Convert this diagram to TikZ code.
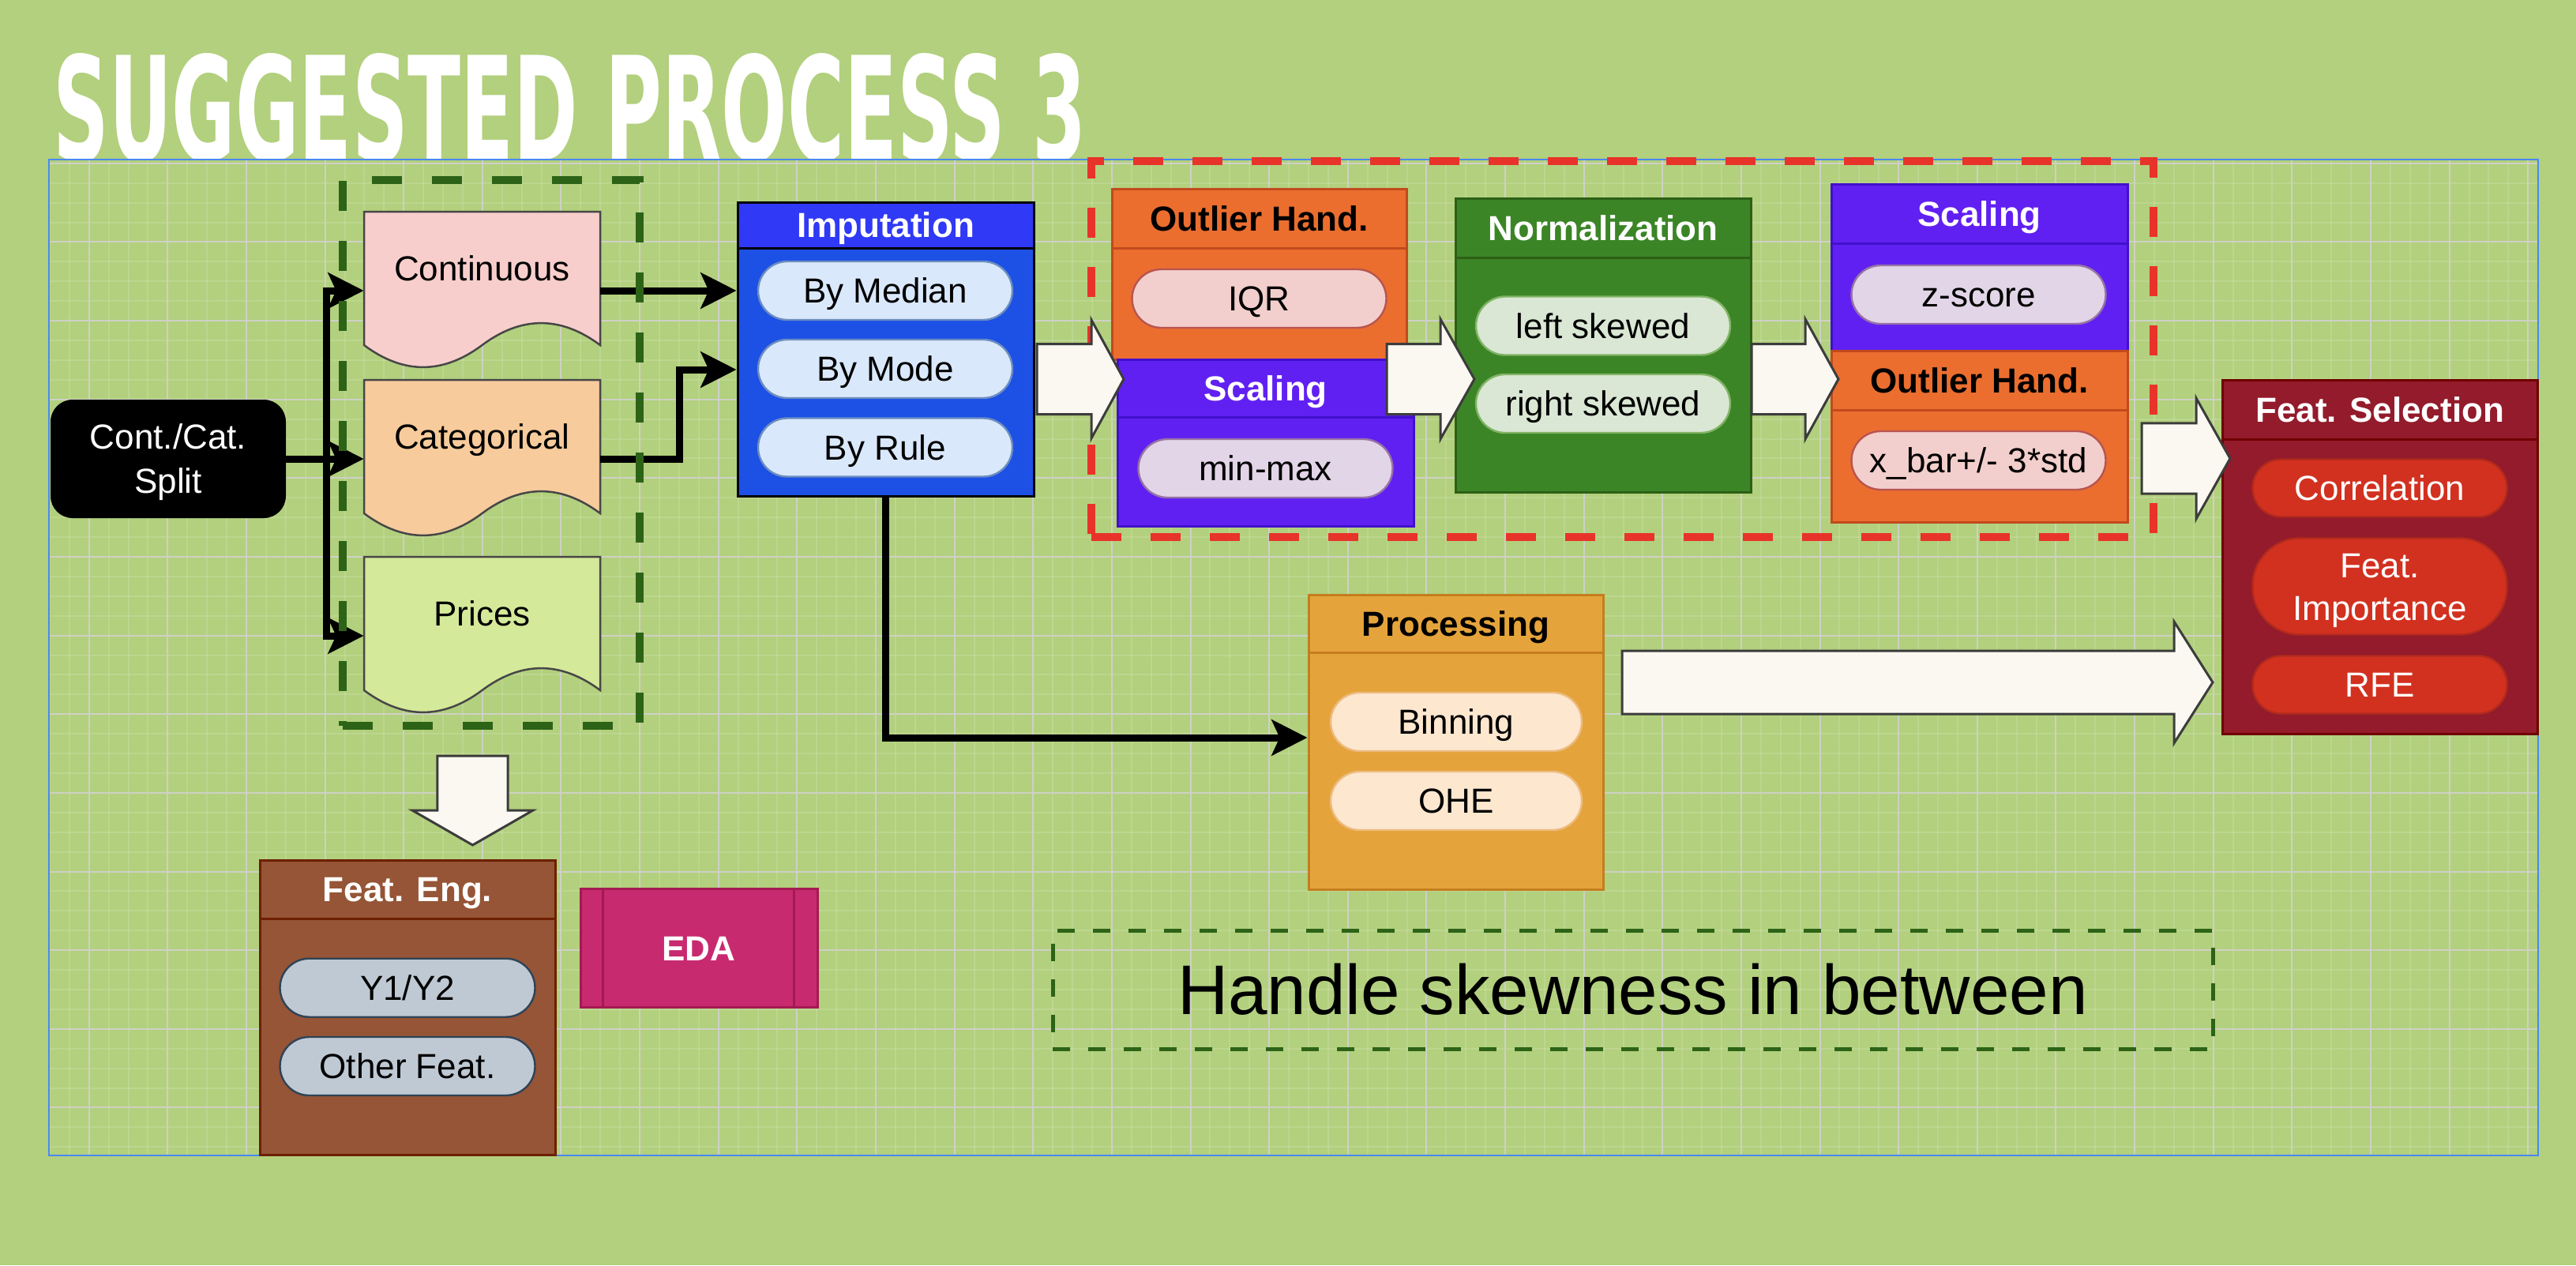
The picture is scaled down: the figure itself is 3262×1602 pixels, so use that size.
\documentclass[tikz,border=0pt]{standalone}
\usepackage{fontspec}
\setmainfont{Liberation Sans}
\newfontfamily\titlefont{DejaVu Sans}
\usepackage{graphicx}
\usetikzlibrary{arrows.meta,calc}
\definecolor{bgG}{HTML}{B2D07D}
\definecolor{gridMaj}{HTML}{CFD0C6}
\definecolor{pageB}{HTML}{4A88F2}
\definecolor{contC}{HTML}{F8CECC}
\definecolor{catC}{HTML}{F7CB9C}
\definecolor{priC}{HTML}{D5E99A}
\definecolor{docLine}{HTML}{474747}
\definecolor{impH}{HTML}{3039F5}
\definecolor{impB}{HTML}{1D50E5}
\definecolor{impP}{HTML}{DAE8FC}
\definecolor{impPS}{HTML}{6C8EBF}
\definecolor{ohC}{HTML}{EB6E2F}
\definecolor{ohS}{HTML}{C24A1C}
\definecolor{ohP}{HTML}{F2CFCC}
\definecolor{ohPS}{HTML}{B85450}
\definecolor{scC}{HTML}{6120F2}
\definecolor{scS}{HTML}{4210CC}
\definecolor{scP}{HTML}{E1D5E7}
\definecolor{scPS}{HTML}{9673A6}
\definecolor{normC}{HTML}{3B8526}
\definecolor{normS}{HTML}{2D6016}
\definecolor{normP}{HTML}{D9E7D4}
\definecolor{normPS}{HTML}{82B366}
\definecolor{fsC}{HTML}{931B2B}
\definecolor{fsS}{HTML}{6F0000}
\definecolor{fsP}{HTML}{D23120}
\definecolor{fsPS}{HTML}{B42A1C}
\definecolor{procC}{HTML}{E5A43B}
\definecolor{procS}{HTML}{C47E1E}
\definecolor{procP}{HTML}{FDE7CF}
\definecolor{procPS}{HTML}{EDBB80}
\definecolor{feC}{HTML}{955536}
\definecolor{feS}{HTML}{6D1F00}
\definecolor{feP}{HTML}{BFC9D4}
\definecolor{fePS}{HTML}{2F4356}
\definecolor{edaC}{HTML}{C82A6F}
\definecolor{edaS}{HTML}{A31A52}
\definecolor{grpG}{HTML}{2D6317}
\definecolor{redD}{HTML}{E8332A}
\definecolor{arrF}{HTML}{FAF8F0}
\definecolor{arrS}{HTML}{3C3C3C}
\newcommand\myBody{\fontsize{22}{27}\selectfont}
\newcommand\myBold{\fontsize{22}{27}\selectfont\bfseries}
\newcommand\MyRArrow[6]{\draw[blk] (#1,{#4-#5}) -- (#2,{#4-#5}) -- (#2,{#4-#6}) -- (#3,#4) -- (#2,{#4+#6}) -- (#2,{#4+#5}) -- (#1,{#4+#5}) -- cycle;}
\tikzset{
  lanebody/.style={rectangle, draw, line width=1.5pt, inner sep=0pt},
  lanehead/.style={rectangle, draw, line width=1.5pt, inner sep=0pt, font=\myBold, text height=15.75pt, text depth=0pt, anchor=north},
  pill/.style={rectangle, rounded corners=18.5pt, draw, line width=1.2pt, minimum width=161pt, minimum height=37pt, inner sep=0pt, font=\myBody, text height=15.75pt, text depth=0pt, align=center},
  conn/.style={line width=4.5pt, -{Stealth[length=22.5pt,width=22.5pt,inset=5pt]}},
  blk/.style={fill=arrF, draw=arrS, line width=1.5pt, line join=miter},
  doc/.style={draw=docLine, line width=1.25pt},
  docnode/.style={rectangle, inner sep=0pt, minimum width=149.5pt, minimum height=100pt, font=\myBody, text height=15.75pt, text depth=28pt},
  gridminor/.style={draw=white, opacity=0.14, line width=1pt},
  gridmajor/.style={draw=gridMaj, line width=1pt},
}
\begin{document}
\begin{tikzpicture}[x=0.5pt,y=-0.5pt]
\useasboundingbox (0,0) rectangle (3262,1602);
\fill[bgG] (0,0) rectangle (3262,1602);
% title
\node[anchor=north west, inner sep=0pt, text=white] (title) at (67,67) {\resizebox{654pt}{68pt}{\titlefont\bfseries SUGGESTED PROCESS 3}};
% page area with grid
\fill[bgG] (62,202) rectangle (3214,1463);
\begin{scope}
\clip (62,202) rectangle (3214,1463);
\foreach \m in {2,...,128} \draw[gridminor] ({13.07+24.9075*\m},202) -- ({13.07+24.9075*\m},1463);
\foreach \m in {0,...,50} \draw[gridminor] (62,{206.85+24.9075*\m}) -- (3214,{206.85+24.9075*\m});
\foreach \k in {1,...,32} \draw[gridmajor] ({13.07+99.63*\k},202) -- ({13.07+99.63*\k},1463);
\foreach \k in {0,...,12} \draw[gridmajor] (62,{206.85+99.63*\k}) -- (3214,{206.85+99.63*\k});
\end{scope}
\draw[pageB, line width=1.2pt] (62,202) rectangle (3214,1463);
% red dashed group
\node[draw=redD, line width=5.3pt, dash pattern=on 19pt off 18.5pt, minimum width=672.5pt, minimum height=238pt, inner sep=0pt] (grpR) at (2054.5,442) {};
% split
\node[fill=black, rounded corners=14pt, minimum width=149pt, minimum height=75pt, inner sep=0pt, text=white, align=center, font=\fontsize{22}{28}\selectfont, text depth=0pt] (split) at (213,581) {Cont./Cat.\\Split};
% documents
\draw[doc, fill=contC, shift={(461,268)}] (0,0) -- (299,0) -- (299,169) .. controls (249.2,131.8) and (199.3,131.8) .. (149.5,169) .. controls (99.7,206.2) and (49.8,206.2) .. (0,169) -- cycle;
\draw[doc, fill=catC, shift={(461,481)}] (0,0) -- (299,0) -- (299,169) .. controls (249.2,131.8) and (199.3,131.8) .. (149.5,169) .. controls (99.7,206.2) and (49.8,206.2) .. (0,169) -- cycle;
\draw[doc, fill=priC, shift={(461,705)}] (0,0) -- (299,0) -- (299,169) .. controls (249.2,131.8) and (199.3,131.8) .. (149.5,169) .. controls (99.7,206.2) and (49.8,206.2) .. (0,169) -- cycle;
\node[docnode] (cont) at (610.5,368) {Continuous};
\node[docnode] (cat) at (610.5,581) {Categorical};
\node[docnode] (pri) at (610.5,805) {Prices};
% Imputation
\node[lanebody, fill=impB, draw=black, minimum width=187.5pt, minimum height=186pt] (imp) at (1121.5,442) {};
\node[lanehead, fill=impH, draw=black, text=white, minimum width=187.5pt, minimum height=29pt] (impH) at (imp.north) {Imputation};
\node[pill, fill=impP, draw=impPS] (impA) at (1121,368) {By Median};
\node[pill, fill=impP, draw=impPS] (impB) at (1121,467) {By Mode};
\node[pill, fill=impP, draw=impPS] (impC) at (1121,566.5) {By Rule};
% Outlier (left)
\node[lanebody, fill=ohC, draw=ohS, minimum width=186.5pt, minimum height=108pt] (oh1) at (1594.5,347) {};
\node[lanehead, fill=ohC, draw=ohS, text=black, minimum width=186.5pt, minimum height=37.5pt] (oh1H) at (oh1.north) {Outlier Hand.};
\node[pill, fill=ohP, draw=ohPS] (oh1A) at (1594.5,378) {IQR};
% Scaling (left)
\node[lanebody, fill=scC, draw=scS, minimum width=187.5pt, minimum height=105.5pt] (sc1) at (1602.5,560.5) {};
\node[lanehead, fill=scC, draw=scS, text=white, minimum width=187.5pt, minimum height=36.5pt] (sc1H) at (sc1.north) {Scaling};
\node[pill, fill=scP, draw=scPS] (sc1A) at (1602.5,593) {min-max};
% Normalization
\node[lanebody, fill=normC, draw=normS, minimum width=186.75pt, minimum height=186pt] (norm) at (2030.25,437) {};
\node[lanehead, fill=normC, draw=normS, text=white, minimum width=186.75pt, minimum height=37.5pt] (normH) at (norm.north) {Normalization};
\node[pill, fill=normP, draw=normPS] (normA) at (2030,412.5) {left skewed};
\node[pill, fill=normP, draw=normPS] (normB) at (2030,511) {right skewed};
% Scaling (right)
\node[lanebody, fill=scC, draw=scS, minimum width=187.5pt, minimum height=105.5pt] (sc2) at (2506.5,338.5) {};
\node[lanehead, fill=scC, draw=scS, text=white, minimum width=187.5pt, minimum height=37.5pt] (sc2H) at (sc2.north) {Scaling};
\node[pill, fill=scP, draw=scPS] (sc2A) at (2505.5,373) {z-score};
% Outlier (right)
\node[lanebody, fill=ohC, draw=ohS, minimum width=187.5pt, minimum height=108.5pt] (oh2) at (2506.5,552.5) {};
\node[lanehead, fill=ohC, draw=ohS, text=black, minimum width=187.5pt, minimum height=37.5pt] (oh2H) at (oh2.north) {Outlier Hand.};
\node[pill, fill=ohP, draw=ohPS] (oh2A) at (2505.5,583) {x\_bar+/- 3*std};
% Feat. Selection
\node[lanebody, fill=fsC, draw=fsS, minimum width=199.25pt, minimum height=224pt] (fs) at (3013.75,705) {};
\node[lanehead, fill=fsC, draw=fsS, text=white, minimum width=199.25pt, minimum height=37.75pt] (fsH) at (fs.north) {Feat. Selection};
\node[pill, fill=fsP, draw=fsPS, text=white, minimum height=36.25pt, rounded corners=18pt] (fsA) at (3013.5,618) {Correlation};
\node[pill, fill=fsP, draw=fsPS, text=white, minimum height=61pt, rounded corners=30pt, text height=42.75pt, text depth=0pt] (fsB) at (3013.5,742.5) {Feat.\\Importance};
\node[pill, fill=fsP, draw=fsPS, text=white, minimum height=36.5pt, rounded corners=18pt] (fsC) at (3013.5,867) {RFE};
% Processing
\node[lanebody, fill=procC, draw=procS, minimum width=186.5pt, minimum height=186.5pt] (proc) at (1843.5,939.5) {};
\node[lanehead, fill=procC, draw=procS, text=black, minimum width=186.5pt, minimum height=36.5pt] (procH) at (proc.north) {Processing};
\node[pill, fill=procP, draw=procPS, minimum width=159pt] (procA) at (1844,914) {Binning};
\node[pill, fill=procP, draw=procPS, minimum width=159pt] (procB) at (1844,1014) {OHE};
% Feat. Eng.
\node[lanebody, fill=feC, draw=feS, minimum width=187pt, minimum height=186.5pt] (fe) at (516,1275.5) {};
\node[lanehead, fill=feC, draw=feS, text=white, minimum width=187pt, minimum height=37pt] (feH) at (fe.north) {Feat. Eng.};
\node[pill, fill=feP, draw=fePS, minimum width=161.5pt] (feA) at (516,1250.7) {Y1/Y2};
\node[pill, fill=feP, draw=fePS, minimum width=161.5pt] (feB) at (516,1350) {Other Feat.};
% EDA
\node[fill=edaC, draw=edaS, line width=1.5pt, minimum width=150pt, minimum height=75pt, inner sep=0pt, text=white, font=\myBold, text height=15.75pt, text depth=0pt] (eda) at (885,1200.5) {EDA};
\draw[edaS, line width=1.5pt] ([xshift=15pt]eda.north west) -- ([xshift=15pt]eda.south west);
\draw[edaS, line width=1.5pt] ([xshift=-15.5pt]eda.north east) -- ([xshift=-15.5pt]eda.south east);
% note
\node[draw=grpG, line width=2.5pt, dash pattern=on 11pt off 11.5pt, minimum width=734.5pt, minimum height=75pt, inner sep=0pt, font=\fontsize{44.5}{50}\selectfont, text height=31.9pt, text depth=0pt] (note) at (2067.5,1253) {Handle skewness in between};
% connectors
\coordinate (bx) at (413,581);
\draw[conn] (split.east) -- (bx) |- (cont.west);
\draw[conn] (split.east) -- (cat.west);
\draw[conn] (split.east) -- (bx) |- (pri.west);
\draw[conn] (cont.east) -- (cont.east -| imp.west);
\coordinate (cj) at (860,468);
\draw[conn] (cat.east) -| (cj) -- (cj -| imp.west);
\coordinate (pj) at (1121.5,934);
\draw[conn] (imp.south) -- (pj) -- (pj -| proc.west);
% green dashed group
\node[draw=grpG, line width=5pt, dash pattern=on 19pt off 19pt, minimum width=188pt, minimum height=345.5pt, inner sep=0pt] (grpA) at (622,573.5) {};
% block arrows
\MyRArrow{1313}{1382}{1423}{480}{44.5}{75}
\MyRArrow{1756}{1824}{1867}{480}{44.5}{76}
\MyRArrow{2218}{2286}{2328}{480}{44.5}{76}
\MyRArrow{2712}{2781}{2824}{580.5}{44.7}{76.5}
\MyRArrow{2054}{2753}{2802}{864}{40}{77}
\draw[blk] (553.8,957) -- (643.2,957) -- (643.2,1026) -- (675,1026) -- (598.5,1070) -- (522,1026) -- (553.8,1026) -- cycle;
\end{tikzpicture}
\end{document}
